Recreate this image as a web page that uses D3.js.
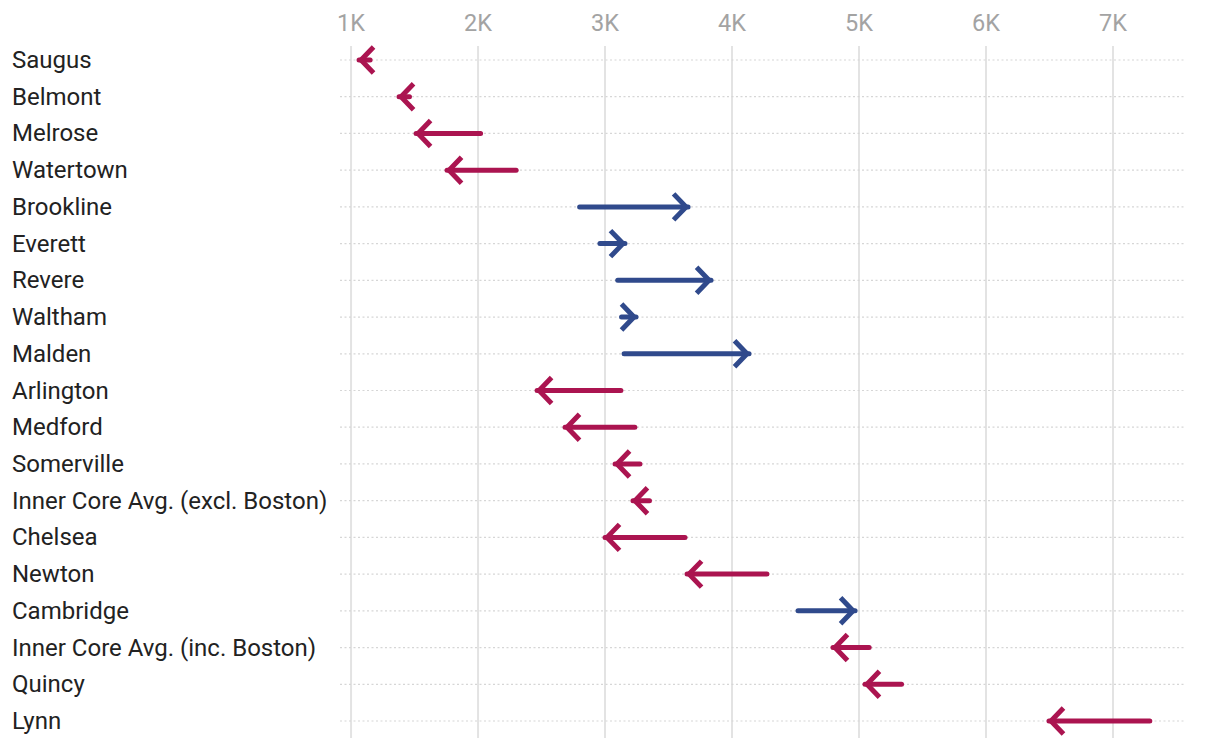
<!DOCTYPE html>
<html><head><meta charset="utf-8">
<script src="https://cdn.jsdelivr.net/npm/d3@7"></script>
<style>body{margin:0;background:#fff;font-family:Roboto,sans-serif}</style>
</head><body><svg id="c" width="1220" height="748"></svg>
<script>
const categories = ["Saugus","Belmont","Melrose","Watertown","Brookline","Everett","Revere","Waltham","Malden","Arlington","Medford","Somerville","Inner Core Avg. (excl. Boston)","Chelsea","Newton","Cambridge","Inner Core Avg. (inc. Boston)","Quincy","Lynn"];
const startValues = [1150,1460,2020,2300,2800,2960,3100,3130,3150,3125,3235,3275,3350,3630,4275,4520,5080,5335,7290];
const endValues   = [1063,1378,1512,1756,3654,3157,3835,3244,4134,2465,2685,3079,3220,3000,3646,4969,4795,5047,6496];
const tickValues = [1000,2000,3000,4000,5000,6000,7000];
const tickLabels = ["1K","2K","3K","4K","5K","6K","7K"];

const RED = "#ab1450", BLUE = "#304a8c";
const svg = d3.select("#c");
const x = d3.scaleLinear().domain([913, 7575]).range([340, 1186]);
const y = d3.scalePoint().domain(categories).range([60, 721]);

// vertical gridlines
svg.append("g").selectAll("line").data(tickValues).join("line")
  .attr("x1", d => x(d)).attr("x2", d => x(d))
  .attr("y1", 46).attr("y2", 738)
  .attr("stroke", "#e3e3e3").attr("stroke-width", 2);

// tick labels
svg.append("g").selectAll("text").data(tickValues).join("text")
  .attr("x", d => x(d)).attr("y", 23)
  .attr("text-anchor", "middle").attr("dominant-baseline", "central")
  .attr("font-size", 23.5).attr("fill", "#a3a3a3")
  .text((d, i) => tickLabels[i]);

// dotted row lines
svg.append("g").selectAll("line").data(categories).join("line")
  .attr("x1", x.range()[0]).attr("x2", x.range()[1])
  .attr("y1", d => y(d)).attr("y2", d => y(d))
  .attr("stroke", "#d6d6d6").attr("stroke-width", 1.2).attr("stroke-dasharray", "2,2.5");

// labels
svg.append("g").selectAll("text").data(categories).join("text")
  .attr("x", 12).attr("y", d => y(d))
  .attr("dominant-baseline", "central")
  .attr("font-size", 24).attr("fill", "#222")
  .text(d => d);

// arrows
const data = categories.map((c, i) => ({c, s: startValues[i], e: endValues[i]}));
const g = svg.append("g").selectAll("g").data(data).join("g");
g.append("line")
  .attr("x1", d => x(d.s)).attr("x2", d => x(d.e))
  .attr("y1", d => y(d.c)).attr("y2", d => y(d.c))
  .attr("stroke", d => d.e > d.s ? BLUE : RED)
  .attr("stroke-width", 5).attr("stroke-linecap", "round");
g.append("path")
  .attr("d", d => {
    const dir = d.e > d.s ? 1 : -1;
    const tx = x(d.e) - dir * 2, ty = y(d.c);
    return `M${tx - dir*12.5},${ty-13}L${tx},${ty}L${tx - dir*12.5},${ty+13}`;
  })
  .attr("fill", "none")
  .attr("stroke", d => d.e > d.s ? BLUE : RED)
  .attr("stroke-width", 5).attr("stroke-linejoin", "miter").attr("stroke-linecap", "butt");
</script></body></html>
